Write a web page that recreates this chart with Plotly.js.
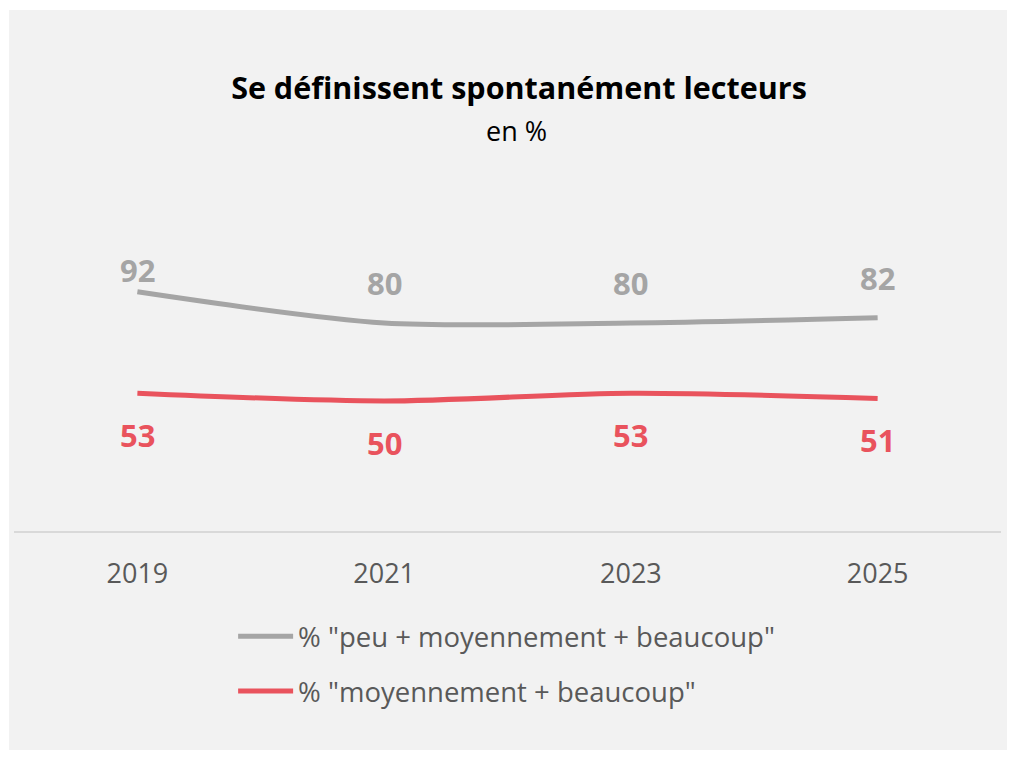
<!DOCTYPE html>
<html>
<head>
<meta charset="utf-8">
<script src="https://cdn.plot.ly/plotly-3.0.1.min.js"></script>
<style>
html,body{margin:0;padding:0;background:#ffffff;}
#chart{position:absolute;left:9px;top:10px;width:998px;height:740px;}
</style>
</head>
<body>
<div id="chart"></div>
<script>
const years = ["2019", "2021", "2023", "2025"];
const seriesGrayName = '% "peu + moyennement + beaucoup"';
const seriesGray = [92, 80, 80, 82];
const seriesRedName = '% "moyennement + beaucoup"';
const seriesRed = [53, 50, 53, 51];
const chartTitle = "Se définissent spontanément lecteurs";
const chartSubtitle = "en %";

const GRAY = "#a5a5a5";
const RED = "#e9535d";
const FONT = "Open Sans, sans-serif";

const traces = [
  {
    x: years, y: seriesGray, name: seriesGrayName, type: "scatter", mode: "lines",
    legendgroup: "g1",
    line: {color: GRAY, width: 5, shape: "spline", smoothing: 0.8},
    hoverinfo: "skip"
  },
  {
    x: years, y: seriesRed, name: seriesRedName, type: "scatter", mode: "lines",
    legendgroup: "g2",
    line: {color: RED, width: 5, shape: "spline", smoothing: 0.8},
    hoverinfo: "skip"
  }
];

const annotations = [];
// category axis: annotation x given as the category index
seriesGray.forEach((v, i) => {
  annotations.push({
    x: i, y: v, xref: "x", yref: "y", text: "<b>" + v + "</b>", showarrow: false,
    yshift: i === 0 ? 22 : 40,
    font: {family: FONT, size: 31, color: GRAY}
  });
});
seriesRed.forEach((v, i) => {
  annotations.push({
    x: i, y: v, xref: "x", yref: "y", text: "<b>" + v + "</b>", showarrow: false,
    yshift: -42,
    font: {family: FONT, size: 31, color: RED}
  });
});
// subtitle, placed above the plot area in paper coordinates
annotations.push({
  xref: "paper", yref: "paper", x: 0.5095, y: 1 + (183 - 120) / 338.4, xanchor: "center", yanchor: "middle",
  text: chartSubtitle, showarrow: false,
  font: {family: FONT, size: 27, color: "#000000"}
});

const layout = {
  width: 998, height: 740,
  paper_bgcolor: "#f2f2f2", plot_bgcolor: "#f2f2f2",
  margin: {l: 5, r: 6, t: 183, b: 218.6, autoexpand: false},
  title: {
    text: "<b>" + chartTitle + "</b>",
    x: 0.511, xanchor: "center", xref: "container",
    y: 1 - 78/740, yanchor: "middle", yref: "container",
    font: {family: FONT, size: 30.5, color: "#000000"}
  },
  xaxis: {
    type: "category", range: [-0.5, 3.5], fixedrange: true,
    showgrid: false, zeroline: false,
    showline: true, linecolor: "#d9d9d9", linewidth: 2,
    ticks: "", ticklabelstandoff: 18,
    tickfont: {family: FONT, size: 27, color: "#595959"}
  },
  yaxis: {
    range: [0, 130], fixedrange: true, visible: false
  },
  showlegend: true,
  legend: {
    orientation: "v", xref: "paper", yref: "paper",
    x: 0.222, xanchor: "left", y: -0.239, yanchor: "top",
    bgcolor: "rgba(0,0,0,0)",
    font: {family: FONT, size: 27.5, color: "#595959"},
    itemwidth: 55, tracegroupgap: 16,
    traceorder: "grouped"
  },
  annotations: annotations
};

Plotly.newPlot("chart", traces, layout, {staticPlot: true, displayModeBar: false});
</script>
</body>
</html>
